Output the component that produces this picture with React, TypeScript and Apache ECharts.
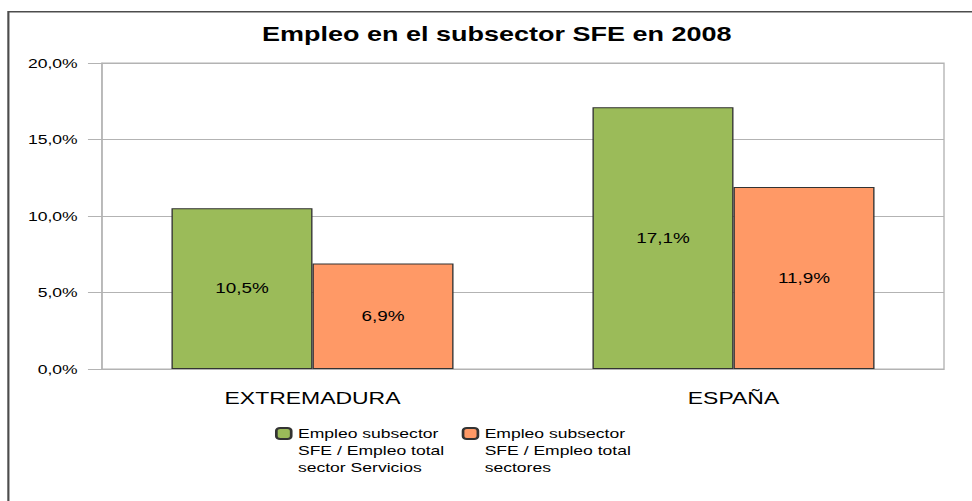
import React, { useEffect, useRef } from "react";
import * as echarts from "echarts";

const categories = ["EXTREMADURA", "ESPAÑA"];
const seriesNames = [
  "Empleo subsector\nSFE / Empleo total\nsector Servicios",
  "Empleo subsector\nSFE / Empleo total\nsectores",
];
const servicesShare = [10.5, 17.1];
const totalShare = [6.9, 11.9];
const yTicks = [0, 5, 10, 15, 20];
const titleText = "Empleo en el subsector SFE en 2008";

const SX = 1.35;
const W = 972 / SX;
const H = 501;
const FONT = "'Liberation Sans', Arial, sans-serif";

const fmt = (v: number) => v.toFixed(1).replace(".", ",") + "%";

export default function App() {
  const ref = useRef<HTMLDivElement>(null);
  useEffect(() => {
    if (!ref.current) return;
    const chart = echarts.init(ref.current, undefined, { renderer: "svg", width: W, height: H });
    const legendText = {
      fontFamily: FONT,
      fontSize: 13,
      color: "#000",
      lineHeight: 17,
    };
    const legendFormatter = (name: string) => "\n\n" + name;
    chart.setOption({
      animation: false,
      backgroundColor: "#fff",
      title: {
        text: titleText,
        left: 363,
        top: 19,
        textAlign: "center",
        textStyle: { fontFamily: FONT, fontSize: 20, fontWeight: "bold", color: "#000" },
      },
      graphic: [
        {
          type: "rect",
          shape: { x: 6.2, y: 11.7, width: 900, height: 700 },
          style: { fill: "none", stroke: "#4d4d4d", lineWidth: 1.6 },
          silent: true,
        },
      ],
      legend: [
        {
          data: [seriesNames[0]],
          left: 203.7,
          top: 391,
          padding: 0,
          itemWidth: 11,
          itemHeight: 11,
          itemGap: 0,
          formatter: legendFormatter,
          textStyle: legendText,
        },
        {
          data: [seriesNames[1]],
          left: 342,
          top: 391,
          padding: 0,
          itemWidth: 11,
          itemHeight: 11,
          itemGap: 0,
          formatter: legendFormatter,
          textStyle: legendText,
        },
      ],
      grid: {
        left: 102 / SX,
        right: (972 - 944) / SX,
        top: 63,
        bottom: 132,
        show: true,
        borderColor: "#b3b3b3",
        borderWidth: 1,
        containLabel: false,
      },
      xAxis: {
        type: "category",
        data: categories,
        axisLine: { lineStyle: { color: "#b3b3b3" } },
        axisTick: { alignWithLabel: true, length: 10, lineStyle: { color: "#b3b3b3" } },
        axisLabel: { fontFamily: FONT, fontSize: 17, color: "#000", margin: 21 },
      },
      yAxis: {
        type: "value",
        min: yTicks[0],
        max: yTicks[yTicks.length - 1],
        interval: 5,
        axisLine: { show: true, lineStyle: { color: "#b3b3b3" } },
        axisTick: { show: true, length: 10.4, lineStyle: { color: "#b3b3b3" } },
        splitLine: { lineStyle: { color: "#b3b3b3" } },
        axisLabel: { fontFamily: FONT, fontSize: 13, color: "#000", margin: 18, formatter: fmt },
      },
      series: [
        {
          name: seriesNames[0],
          type: "bar",
          data: servicesShare,
          barGap: "0%",
          barCategoryGap: "33%",
          itemStyle: { color: "#9BBB59", borderColor: "#333", borderWidth: 1 },
          label: {
            show: true,
            position: "inside",
            fontFamily: FONT,
            fontSize: 14,
            color: "#000",
            formatter: (p: any) => fmt(p.value),
          },
        },
        {
          name: seriesNames[1],
          type: "bar",
          data: totalShare,
          itemStyle: { color: "#FF9966", borderColor: "#333", borderWidth: 1 },
          label: {
            show: true,
            position: "inside",
            fontFamily: FONT,
            fontSize: 14,
            color: "#000",
            formatter: (p: any) => fmt(p.value),
          },
        },
      ],
    });
    return () => chart.dispose();
  }, []);
  return (
    <div
      style={{
        position: "fixed",
        left: 0,
        top: 0,
        width: 972,
        height: H,
        overflow: "hidden",
        background: "#fff",
      }}
    >
      <div
        ref={ref}
        style={{ width: W, height: H, transform: `scaleX(${SX})`, transformOrigin: "0 0" }}
      />
    </div>
  );
}
